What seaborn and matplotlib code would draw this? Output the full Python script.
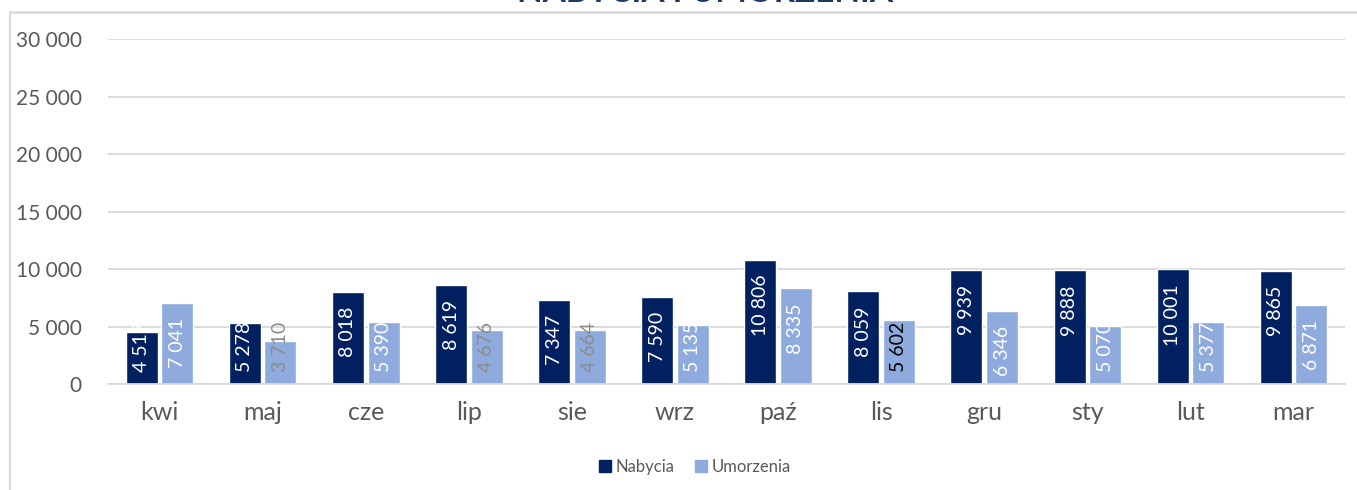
import pandas as pd
import seaborn as sns
import matplotlib.pyplot as plt
from matplotlib.lines import Line2D
from matplotlib.ticker import FuncFormatter, FixedLocator

months = ["kwi", "maj", "cze", "lip", "sie", "wrz", "paź", "lis", "gru", "sty", "lut", "mar"]
nabycia = [4517, 5278, 8018, 8619, 7347, 7590, 10806, 8059, 9939, 9888, 10001, 9865]
umorzenia = [7041, 3710, 5390, 4676, 4664, 5135, 8335, 5602, 6346, 5070, 5377, 6871]
series_names = ["Nabycia", "Umorzenia"]

NAVY = "#002060"
LIGHT = "#8faadc"
GRID = "#d9d9d9"
TXT = "#595959"

# label colours as in the original (Excel auto colouring)
lab_colors = {
    "Nabycia": ["white"] * 12,
    "Umorzenia": ["white", "#8c8c8c", "white", "#8c8c8c", "#8c8c8c", "white",
                  "white", "black", "white", "white", "white", "white"],
}

sns.set_theme(style="white")
plt.rcParams["font.family"] = ["Lato", "DejaVu Sans"]

df = pd.DataFrame({
    "month": months * 2,
    "value": nabycia + umorzenia,
    "series": [series_names[0]] * 12 + [series_names[1]] * 12,
})

fig = plt.figure(figsize=(13.57, 4.90), dpi=100)
ax = fig.add_axes([0.0796, 0.2163, 0.9116, 0.7041])

sns.barplot(data=df, x="month", y="value", hue="series", order=months,
            hue_order=series_names, palette=[NAVY, LIGHT], width=0.69, gap=0.1,
            saturation=1, legend=False, ax=ax)

ax.set_ylim(0, 30000)
ax.set_xlim(-0.5, 11.5)
ax.set_yticks(range(0, 30001, 5000))
ax.yaxis.set_major_formatter(FuncFormatter(lambda v, p: f"{int(v):,}".replace(",", " ")))
ax.grid(axis="y", color=GRID, linewidth=1.3)
ax.set_axisbelow(True)
for s in ["top", "right", "left"]:
    ax.spines[s].set_visible(False)
ax.spines["bottom"].set_color(GRID)
ax.spines["bottom"].set_linewidth(1.3)
ax.set_xlabel("")
ax.set_ylabel("")
ax.tick_params(axis="y", length=0, pad=19, labelsize=15, labelcolor=TXT)
ax.tick_params(axis="x", which="major", length=0, pad=12, labelsize=18, labelcolor=TXT)
ax.xaxis.set_minor_locator(FixedLocator([i - 0.5 for i in range(13)]))
ax.tick_params(axis="x", which="minor", length=8, width=1.3, color=GRID, direction="out")

# data labels: inside end, rotated
for cont, name in zip(ax.containers, series_names):
    for bar, col in zip(cont, lab_colors[name]):
        v = bar.get_height()
        txt = f"{int(v):,}".replace(",", " ")
        x = bar.get_x() + bar.get_width() / 2
        L = len(txt) * 780
        if v - 1300 - L >= 1040:
            ax.text(x, v - 1300, txt, rotation=90, ha="center", va="top",
                    color=col, fontsize=14)
        else:
            ax.text(x, 1040, txt, rotation=90, ha="center", va="bottom",
                    color=col, fontsize=14)

# chart frame and clipped title
fig.add_artist(Line2D([10 / 1357, 10 / 1357], [0, 1 - 12 / 490], transform=fig.transFigure,
                      color=GRID, linewidth=1.5))
fig.add_artist(Line2D([10 / 1357, 1], [1 - 12 / 490, 1 - 12 / 490], transform=fig.transFigure,
                      color=GRID, linewidth=1.8))
fig.text(705 / 1357, 1 - 7 / 490, "NABYCIA I UMORZENIA", ha="center", va="bottom",
         fontsize=24, fontweight="bold", color="#1f3864")

handles = [plt.Rectangle((0, 0), 1, 1, color=NAVY), plt.Rectangle((0, 0), 1, 1, color=LIGHT)]
fig.legend(handles, series_names, loc="center", bbox_to_anchor=(695 / 1357, 1 - 467 / 490),
           ncol=2, frameon=False, fontsize=12, handlelength=0.7, handleheight=0.7,
           handletextpad=0.3, columnspacing=1.2, labelcolor=TXT)

fig.savefig("out.png", dpi=100)
